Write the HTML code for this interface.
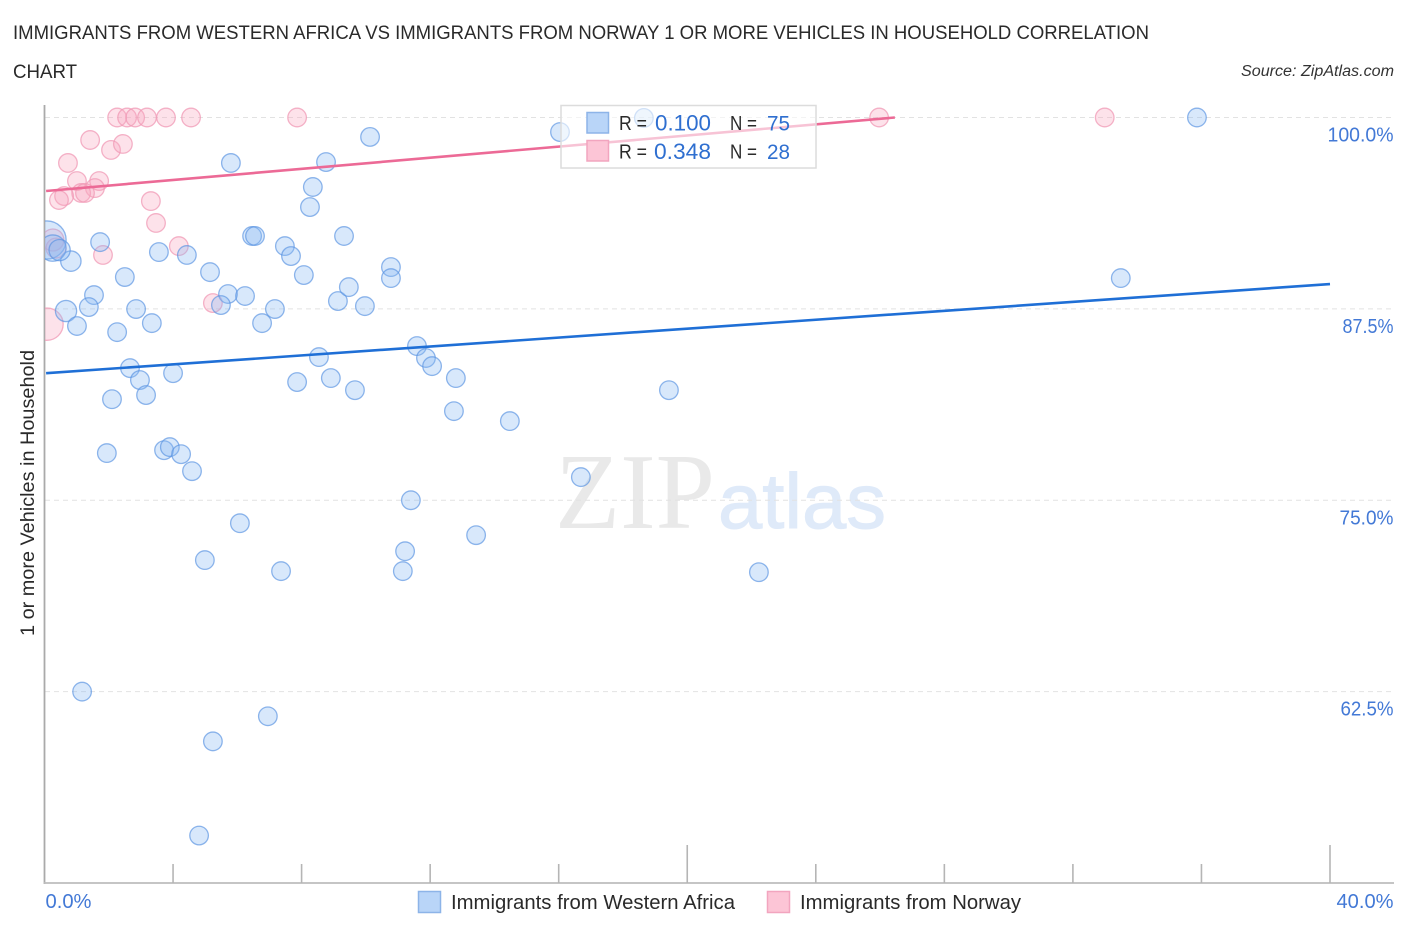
<!DOCTYPE html>
<html lang="en">
<head>
<meta charset="utf-8">
<title>Immigrants from Western Africa vs Immigrants from Norway 1 or More Vehicles in Household Correlation Chart</title>
<style>
html,body{margin:0;padding:0;background:#fff;width:1406px;height:930px;overflow:hidden}
svg{display:block;font-family:"Liberation Sans",sans-serif}
</style>
</head>
<body>
<svg id="chart" xmlns="http://www.w3.org/2000/svg" width="1406" height="930" viewBox="0 0 1406 930">
  <defs>
    <clipPath id="plot-clip"><rect x="45" y="90" width="1361" height="793"/></clipPath>
  </defs>
  <text x="13" y="39" font-size="19.5" fill="#2a2a2a" textLength="1136" lengthAdjust="spacingAndGlyphs">IMMIGRANTS FROM WESTERN AFRICA VS IMMIGRANTS FROM NORWAY 1 OR MORE VEHICLES IN HOUSEHOLD CORRELATION</text>
  <text x="13" y="78" font-size="19.5" fill="#2a2a2a" textLength="64" lengthAdjust="spacingAndGlyphs">CHART</text>
  <text x="1241" y="76" font-size="15.5" font-style="italic" fill="#333" textLength="153" lengthAdjust="spacingAndGlyphs">Source: ZipAtlas.com</text>

  <g>
    <text x="555" y="528" font-family="'Liberation Serif',serif" font-size="108" fill="#e9e9e9" textLength="160" lengthAdjust="spacingAndGlyphs">ZIP</text>
    <text x="718" y="528" style="font-family:'Liberation Sans',sans-serif" font-size="78" fill="#dfeaf9" stroke="#dfeaf9" stroke-width="1" textLength="168" lengthAdjust="spacingAndGlyphs">atlas</text>
  </g>

  <g id="grid"></g>
  <g id="axes"></g>
  <g id="points-norway" clip-path="url(#plot-clip)"></g>
  <g id="points-africa" clip-path="url(#plot-clip)"></g>
  <g id="trends"></g>
  <g id="labels"></g>

  <text transform="translate(34,636) rotate(-90)" font-size="19" fill="#2a2a2a" textLength="286" lengthAdjust="spacingAndGlyphs">1 or more Vehicles in Household</text>

  <g>
    <rect x="561" y="105.5" width="255" height="62.5" fill="#fff" fill-opacity="0.6" stroke="#dcdcdc" stroke-width="1.5"/>
    <rect x="587" y="112.5" width="21.5" height="20.5" fill="#b9d5f8" stroke="#8db4e8" stroke-width="1.5"/>
    <rect x="587" y="140.5" width="21.5" height="20.5" fill="#fcc5d6" stroke="#f2a5bf" stroke-width="1.5"/>
    <text x="619" y="130" font-size="20" fill="#2a2a2a" textLength="28" lengthAdjust="spacingAndGlyphs">R =</text>
    <text x="655" y="130.5" font-size="22" fill="#2f6fd0" textLength="56" lengthAdjust="spacingAndGlyphs">0.100</text>
    <text x="730" y="130" font-size="20" fill="#2a2a2a" textLength="27" lengthAdjust="spacingAndGlyphs">N =</text>
    <text x="767" y="130.5" font-size="21" fill="#2f6fd0" textLength="23" lengthAdjust="spacingAndGlyphs">75</text>
    <text x="619" y="158.5" font-size="20" fill="#2a2a2a" textLength="28" lengthAdjust="spacingAndGlyphs">R =</text>
    <text x="654" y="159" font-size="22" fill="#2f6fd0" textLength="57" lengthAdjust="spacingAndGlyphs">0.348</text>
    <text x="730" y="158.5" font-size="20" fill="#2a2a2a" textLength="27" lengthAdjust="spacingAndGlyphs">N =</text>
    <text x="767" y="159" font-size="21" fill="#2f6fd0" textLength="23" lengthAdjust="spacingAndGlyphs">28</text>
  </g>

  <g>
    <rect x="418.5" y="891.5" width="22" height="21" fill="#b9d5f8" stroke="#8db4e8" stroke-width="1.5"/>
    <text x="451" y="909" font-size="20" fill="#2a2a2a" textLength="284" lengthAdjust="spacingAndGlyphs">Immigrants from Western Africa</text>
    <rect x="767.5" y="891.5" width="22" height="21" fill="#fcc5d6" stroke="#f2a5bf" stroke-width="1.5"/>
    <text x="800" y="909" font-size="20" fill="#2a2a2a" textLength="221" lengthAdjust="spacingAndGlyphs">Immigrants from Norway</text>
  </g>
</svg>
<script>
// Western Africa series: share (%) on x, one-or-more-vehicles rate (%) on y, relative population weight
const africaX = [18.65,16.04,35.86,10.13,5.80,8.76,8.35,8.26,9.32,6.46,6.55,7.48,7.67,8.07,1.73,3.56,4.43,5.15,2.50,0.82,0.08,0.26,0.47,1.54,1.38,0.67,1.01,2.26,2.85,3.34,5.71,6.24,5.49,6.77,7.17,9.13,9.47,9.97,10.78,10.78,11.59,11.87,12.06,12.80,12.74,14.48,8.54,7.86,8.91,9.66,2.66,2.97,4.00,3.16,2.10,1.94,3.72,3.90,4.25,4.59,11.40,16.69,6.08,13.43,4.99,11.22,11.15,7.36,22.23,19.43,33.49,1.17,6.95,5.24,4.81];
const africaY = [99.97,99.05,100,98.73,97.03,97.09,95.46,94.15,92.26,92.26,92.26,91.60,90.95,89.71,91.86,91.21,91.02,89.90,89.58,90.62,92.00,91.47,91.34,88.40,87.62,87.36,86.38,85.98,87.49,86.57,88.47,88.34,87.75,86.57,87.49,88.01,88.92,87.68,90.23,89.51,85.07,84.29,83.76,82.98,80.82,80.17,84.35,82.72,82.98,82.19,83.63,82.85,83.30,81.87,81.60,78.08,78.27,78.47,78.01,76.90,75.00,76.51,73.50,72.72,71.09,71.67,70.37,70.37,70.30,82.19,89.51,62.50,60.89,59.25,53.10];
const africaWeight = [1,1,1,1,1,1,1,1,1,1,1,1,1,1,1,1,1,1,1,1.2,4.2,2,1.3,1,1,1.3,1,1,1,1,1,1,1,1,1,1,1,1,1,1,1,1,1,1,1,1,1,1,1,1,1,1,1,1,1,1,1,1,1,1,1,1,1,1,1,1,1,1,1,1,1,1,1,1,1];

// Norway series
const norwayX = [2.26,2.57,2.82,3.19,3.78,4.56,7.86,25.97,32.99,1.42,2.07,2.44,0.73,1.01,1.70,1.57,1.14,1.26,0.61,0.45,3.31,3.47,4.18,1.82,5.24,0.26,0.36,0.08];
const norwayY = [100,100,100,100,100,100,100,100,100,98.53,97.88,98.27,97.03,95.85,95.85,95.39,95.07,95.07,94.87,94.61,94.54,93.11,91.60,91.02,87.88,92.00,91.47,86.50];
const norwayWeight = [1,1,1,1,1,1,1,1,1,1,1,1,1,1,1,1,1,1,1,1,1,1,1,1,1,1.4,1.15,3];

// Trend line endpoints
const africaTrendX = [0.05,40];
const africaTrendY = [83.3,89.12];
const norwayTrendX = [0.05,26.46];
const norwayTrendY = [95.2,100];

// Axis ticks
const yTicks = [100,87.5,75,62.5];
const yTickLabels = ["100.0%","87.5%","75.0%","62.5%"];
const xMinorTicks = [0,4,8,12,16,20,24,28,32,36,40];
const xMajorTicks = [20,40];
const xEndLabels = ["0.0%","40.0%"];
const xEndValues = [0,40];

const NS = "http://www.w3.org/2000/svg";
function sx(v){ return 44.5 + (v - 0) * (1330 - 44.5) / 40; }
function sy(v){ return 117.5 + (100 - v) * (883 - 117.5) / 50; }
function rScale(w){ return 9.3 * Math.sqrt(w); }
function labelWidth(s){ return s === "100.0%" ? 66 : s === "87.5%" ? 51 : s === "75.0%" ? 54 : s === "62.5%" ? 53 : s === "0.0%" ? 46 : 57; }
function make(tag, parentId){
  const el = document.createElementNS(NS, tag);
  document.getElementById(parentId).appendChild(el);
  return el;
}

// gridlines
yTicks.forEach(function(t){
  const el = make("line","grid");
  
  
  el.setAttribute("x1",45); el.setAttribute("x2",1394);
  el.setAttribute("y1",sy(t)); el.setAttribute("y2",sy(t));
  el.setAttribute("stroke","#e2e2e2");
  el.setAttribute("stroke-width","1");
  el.setAttribute("stroke-dasharray","5 4");
});

// axes
const yAxis = make("line","axes");


yAxis.setAttribute("x1",44.5); yAxis.setAttribute("x2",44.5);
yAxis.setAttribute("y1",105); yAxis.setAttribute("y2",884);
yAxis.setAttribute("stroke","#aaaaaa"); yAxis.setAttribute("stroke-width","1.8");

const xAxis = make("line","axes");


xAxis.setAttribute("x1",44); xAxis.setAttribute("x2",1394);
xAxis.setAttribute("y1",883); xAxis.setAttribute("y2",883);
xAxis.setAttribute("stroke","#bdbdbd"); xAxis.setAttribute("stroke-width","1.8");

xMinorTicks.forEach(function(t){
  if (t === 0) return;
  const el = make("line","axes");
  
  
  const major = xMajorTicks.indexOf(t) >= 0;
  el.setAttribute("x1",sx(t)); el.setAttribute("x2",sx(t));
  el.setAttribute("y1",major ? 845 : 864); el.setAttribute("y2",883);
  el.setAttribute("stroke","#b5b5b5"); el.setAttribute("stroke-width","1.6");
});

// points
norwayX.forEach(function(x,i){
  const el = make("circle","points-norway");
  
  
  el.setAttribute("cx",sx(x));
  el.setAttribute("cy",sy(norwayY[i]));
  el.setAttribute("r",rScale(norwayWeight[i]));
  el.setAttribute("fill","#f8a8c0");
  el.setAttribute("fill-opacity","0.33");
  el.setAttribute("stroke","#f09ab6");
  el.setAttribute("stroke-opacity","0.75");
  el.setAttribute("stroke-width","1.3");
});
africaX.forEach(function(x,i){
  const el = make("circle","points-africa");
  
  
  el.setAttribute("cx",sx(x));
  el.setAttribute("cy",sy(africaY[i]));
  el.setAttribute("r",rScale(africaWeight[i]));
  el.setAttribute("fill","#8ab8f2");
  el.setAttribute("fill-opacity","0.33");
  el.setAttribute("stroke","#5a94e2");
  el.setAttribute("stroke-opacity","0.68");
  el.setAttribute("stroke-width","1.3");
});

// trend lines
const africaLine = make("line","trends");


africaLine.setAttribute("x1",sx(africaTrendX[0])); africaLine.setAttribute("x2",sx(africaTrendX[1]));
africaLine.setAttribute("y1",sy(africaTrendY[0])); africaLine.setAttribute("y2",sy(africaTrendY[1]));
africaLine.setAttribute("stroke","#1f6fd6"); africaLine.setAttribute("stroke-width","2.6");

const norwayLine = make("line","trends");


norwayLine.setAttribute("x1",sx(norwayTrendX[0])); norwayLine.setAttribute("x2",sx(norwayTrendX[1]));
norwayLine.setAttribute("y1",sy(norwayTrendY[0])); norwayLine.setAttribute("y2",sy(norwayTrendY[1]));
norwayLine.setAttribute("stroke","#ec6a96"); norwayLine.setAttribute("stroke-width","2.6");

// tick labels
yTicks.forEach(function(t,i){
  const el = make("text","labels");
  
  
  const w = labelWidth(yTickLabels[i]);
  el.setAttribute("x",1393.5 - w);
  el.setAttribute("y",sy(t)+24);
  el.setAttribute("textLength",w);
  el.setAttribute("lengthAdjust","spacingAndGlyphs");
  el.setAttribute("font-size","20");
  el.setAttribute("fill","#4379d6");
  el.textContent = yTickLabels[i];
});
xEndLabels.forEach(function(label,i){
  const el = make("text","labels");
  
  
  const first = xEndValues[i] === 0;
  const w = labelWidth(label);
  el.setAttribute("x",first ? sx(xEndValues[i]) + 1 : sx(xEndValues[i]) + 63.5 - w);
  el.setAttribute("y",908);
  el.setAttribute("textLength",w);
  el.setAttribute("lengthAdjust","spacingAndGlyphs");
  el.setAttribute("font-size","20");
  el.setAttribute("fill","#4379d6");
  el.textContent = label;
});
</script>
</body>
</html>
